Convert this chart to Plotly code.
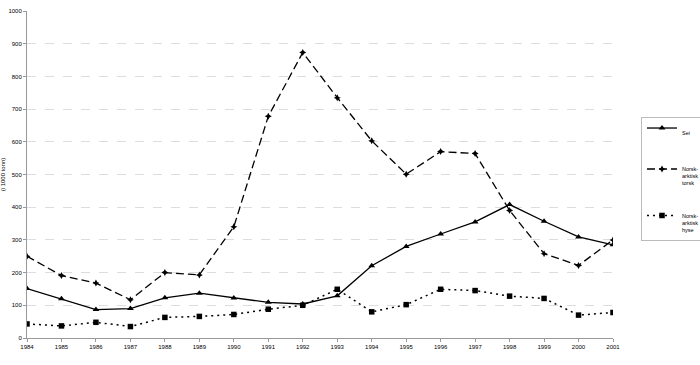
import plotly.graph_objects as go

years = list(range(1984, 2002))
sei = [151, 120, 87, 90, 123, 137, 122, 109, 104, 129, 221, 280, 318, 355, 408, 357, 309, 285]
torsk = [250, 191, 168, 117, 200, 193, 340, 678, 873, 735, 603, 501, 570, 564, 390, 258, 222, 300]
hyse = [43, 37, 48, 35, 63, 66, 72, 88, 100, 149, 80, 102, 149, 145, 128, 121, 70, 78]
y_ticks = list(range(0, 1001, 100))

font = "Liberation Sans, Arial, sans-serif"

fig = go.Figure()
fig.add_trace(go.Scatter(x=years, y=sei, name="Sei", mode="lines+markers", legendgroup="a",
                         line=dict(color="black", width=1.3, dash="solid"),
                         marker=dict(symbol="triangle-up", size=6, color="black")))
fig.add_trace(go.Scatter(x=years, y=torsk, name="Norsk-<br>arktisk<br>torsk", mode="lines+markers",
                         legendgroup="b",
                         line=dict(color="black", width=1.3, dash="8px,4px"),
                         marker=dict(symbol="star-diamond", size=5, color="black")))
fig.add_trace(go.Scatter(x=years, y=hyse, name="Norsk-<br>arktisk<br>hyse", mode="lines+markers",
                         legendgroup="c",
                         line=dict(color="black", width=1.5, dash="2px,4px"),
                         marker=dict(symbol="square", size=5.5, color="black")))

fig.update_layout(
    width=700, height=365,
    margin=dict(l=27, r=87, t=11, b=27, autoexpand=False),
    paper_bgcolor="white", plot_bgcolor="white",
    font=dict(family=font, size=6, color="black"),
    showlegend=True,
    legend=dict(x=1.0478, xanchor="left", y=0.676, yanchor="top",
                bordercolor="#bbbbbb", borderwidth=1, bgcolor="white",
                font=dict(size=5.5, family=font), itemwidth=30,
                valign="top", traceorder="grouped", tracegroupgap=22),
)
fig.update_xaxes(range=[1984, 2001], tickvals=years, ticktext=[str(y) for y in years],
                 showgrid=False, showline=True, linecolor="#999999", linewidth=1,
                 ticks="outside", ticklen=3, tickcolor="#999999", zeroline=False,
                 tickfont=dict(size=6), automargin=False)
fig.update_yaxes(range=[0, 1000], tickvals=y_ticks,
                 showgrid=True, gridcolor="#dddddd", griddash="dash", gridwidth=1,
                 showline=True, linecolor="#999999", linewidth=1,
                 ticks="outside", ticklen=3, tickcolor="#999999", zeroline=False,
                 tickfont=dict(size=6), automargin=False,
                 title=dict(text="(i 1000 tonn)", font=dict(size=6), standoff=2))

fig.write_html("out.html", config={"displayModeBar": False},
               post_script="document.body.style.margin='0';document.body.style.overflow='hidden';")
